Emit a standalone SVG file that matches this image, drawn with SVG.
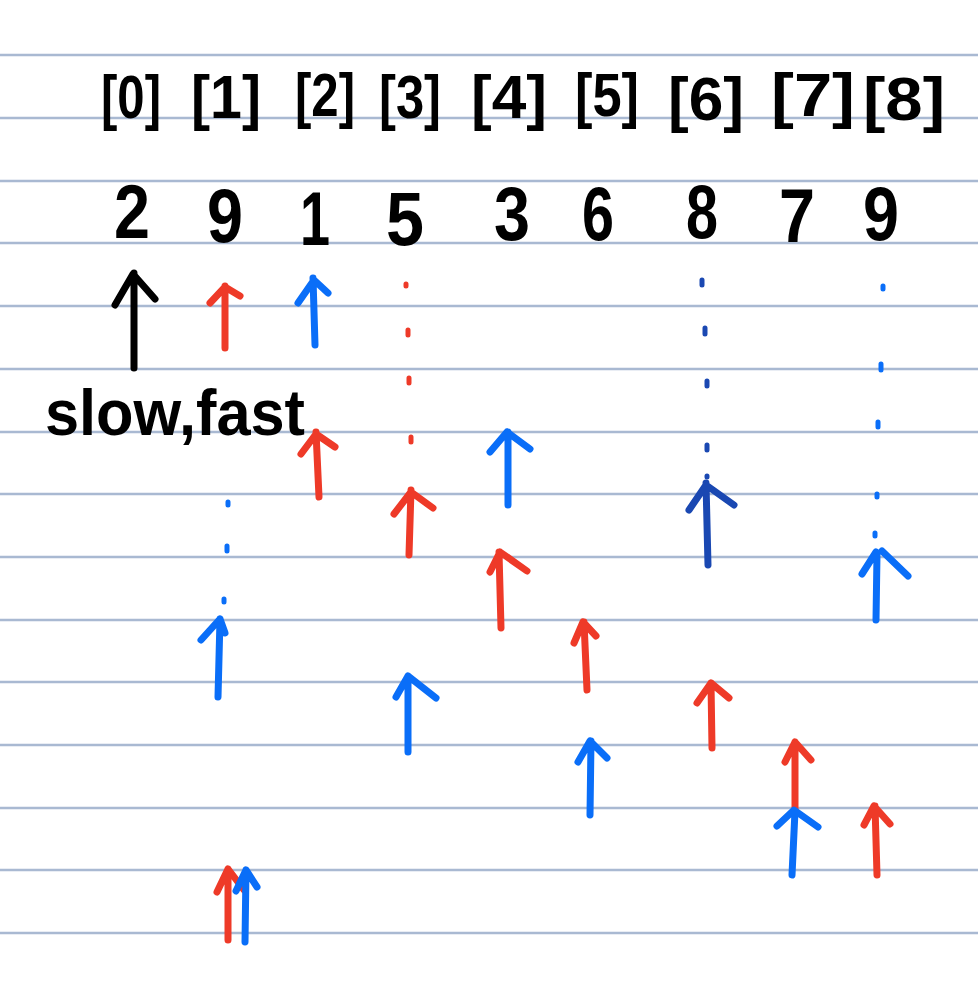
<svg xmlns="http://www.w3.org/2000/svg" width="978" height="982" viewBox="0 0 978 982">
<style>
.rule{stroke:#a9b9d2;stroke-width:2.5}
.t{font-family:"Liberation Sans",Arial,sans-serif;font-weight:bold;fill:#000}
.idx{font-size:62px}
.num{font-size:76px}
.a{fill:none;stroke-width:7;stroke-linecap:round;stroke-linejoin:round}
.d{fill:none;stroke-width:5;stroke-linecap:round}
.k{stroke:#000}
.r{stroke:#ee3a28}
.b{stroke:#0a6ef8}
.n{stroke:#1a48b2}
</style>
<rect width="978" height="982" fill="#fff"/>
<g id="rules">
<line class="rule" x1="0" y1="55" x2="978" y2="55"/>
<line class="rule" x1="0" y1="118" x2="978" y2="118"/>
<line class="rule" x1="0" y1="181" x2="978" y2="181"/>
<line class="rule" x1="0" y1="243" x2="978" y2="243"/>
<line class="rule" x1="0" y1="306" x2="978" y2="306"/>
<line class="rule" x1="0" y1="369" x2="978" y2="369"/>
<line class="rule" x1="0" y1="432" x2="978" y2="432"/>
<line class="rule" x1="0" y1="494" x2="978" y2="494"/>
<line class="rule" x1="0" y1="557" x2="978" y2="557"/>
<line class="rule" x1="0" y1="620" x2="978" y2="620"/>
<line class="rule" x1="0" y1="682" x2="978" y2="682"/>
<line class="rule" x1="0" y1="745" x2="978" y2="745"/>
<line class="rule" x1="0" y1="808" x2="978" y2="808"/>
<line class="rule" x1="0" y1="870" x2="978" y2="870"/>
<line class="rule" x1="0" y1="933" x2="978" y2="933"/>
</g>
<g id="indices" class="t idx" text-anchor="middle">
<text x="131" y="118" textLength="60" lengthAdjust="spacingAndGlyphs">[0]</text>
<text x="226" y="118" textLength="70" lengthAdjust="spacingAndGlyphs">[1]</text>
<text x="325" y="116" textLength="60" lengthAdjust="spacingAndGlyphs">[2]</text>
<text x="410" y="118" textLength="62" lengthAdjust="spacingAndGlyphs">[3]</text>
<text x="509" y="118" textLength="76" lengthAdjust="spacingAndGlyphs">[4]</text>
<text x="607" y="116" textLength="64" lengthAdjust="spacingAndGlyphs">[5]</text>
<text x="706" y="120" textLength="76" lengthAdjust="spacingAndGlyphs">[6]</text>
<text x="813" y="116" textLength="84" lengthAdjust="spacingAndGlyphs">[7]</text>
<text x="904" y="120" textLength="82" lengthAdjust="spacingAndGlyphs">[8]</text>
</g>
<g id="values" class="t num" text-anchor="middle">
<text x="132" y="238" textLength="36" lengthAdjust="spacingAndGlyphs">2</text>
<text x="225" y="242" textLength="36" lengthAdjust="spacingAndGlyphs">9</text>
<text x="315" y="245" textLength="30" lengthAdjust="spacingAndGlyphs">1</text>
<text x="405" y="245" textLength="38" lengthAdjust="spacingAndGlyphs">5</text>
<text x="512" y="240" textLength="36" lengthAdjust="spacingAndGlyphs">3</text>
<text x="598" y="240" textLength="32" lengthAdjust="spacingAndGlyphs">6</text>
<text x="702" y="238" textLength="32" lengthAdjust="spacingAndGlyphs">8</text>
<text x="797" y="242" textLength="36" lengthAdjust="spacingAndGlyphs">7</text>
<text x="881" y="240" textLength="36" lengthAdjust="spacingAndGlyphs">9</text>
</g>
<g id="label">
<text class="t" x="45" y="435" font-size="64" textLength="260" lengthAdjust="spacingAndGlyphs">slow,fast</text>
</g>
<g id="dots">
<path class="d r" d="M406 284v2 M408 330v5 M409 378v5 M411 437v5"/>
<path class="d n" d="M702 280v5 M705 328v6 M707 381v5 M707 445v5 M707 476v1"/>
<path class="d b" d="M883 286v3 M881 364v6 M878 422v5 M877 494v3 M875 533v3"/>
<path class="d b" d="M228 502v3 M227 546v5 M224 599v3"/>
</g>
<g id="connectors">
<path class="a k" d="M134 368V273 M115 305L133 274L155 299"/>
<path class="a r" d="M225 348V286 M210 303L225 287L240 296"/>
<path class="a b" d="M315 345L313 278 M298 303L314 280L328 293"/>
<path class="a r" d="M319 497L316 432 M301 454L316 434L335 447"/>
<path class="a b" d="M508 505V432 M490 452L507 432L530 449"/>
<path class="a n" d="M708 565L706 483 M689 510L706 485L734 505"/>
<path class="a b" d="M876 620L877 554 M862 574L876 552 M882 551L908 576"/>
<path class="a r" d="M409 555L411 490 M394 514L411 492L433 508"/>
<path class="a r" d="M501 628L499 552 M490 572L500 552L527 571"/>
<path class="a r" d="M587 690L584 622 M574 643L583 622L596 636"/>
<path class="a b" d="M218 697L220 619 M201 640L220 619L225 633"/>
<path class="a b" d="M408 752V676 M396 697L408 676L436 698"/>
<path class="a r" d="M712 748L711 683 M697 703L711 683L729 698"/>
<path class="a b" d="M590 815L591 741 M578 762L590 741L607 758"/>
<path class="a r" d="M795 810V742 M785 762L795 742L811 760"/>
<path class="a b" d="M792 875L795 811 M777 826L794 810L818 827"/>
<path class="a r" d="M877 875L875 806 M864 825L874 806L890 824"/>
<path class="a r" d="M228 940V869 M217 892L228 869L244 890"/>
<path class="a b" d="M245 942L246 870 M236 891L246 870L257 887"/>
</g>
</svg>
